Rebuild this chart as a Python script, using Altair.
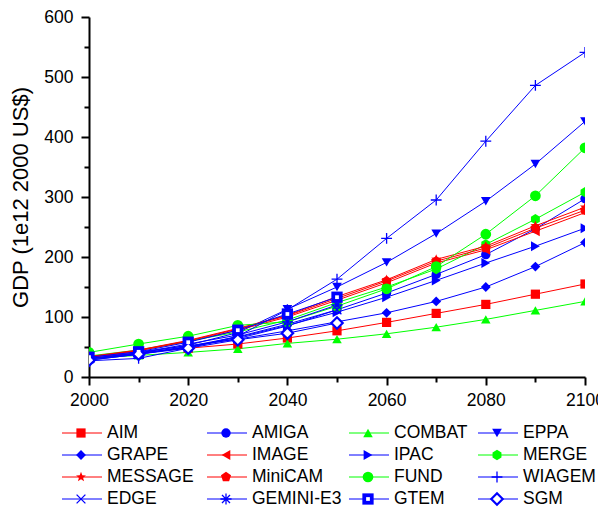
import math
import altair as alt
import pandas as pd

# ---------------- data ----------------
years = [2000, 2010, 2020, 2030, 2040, 2050, 2060, 2070, 2080, 2090, 2100]
models = ["AIM", "AMIGA", "COMBAT", "EPPA", "GRAPE", "IMAGE", "IPAC", "MERGE",
          "MESSAGE", "MiniCAM", "FUND", "WIAGEM", "EDGE", "GEMINI-E3", "GTEM", "SGM"]

aim = [33, 40, 48, 55, 65, 77, 91, 106, 121, 138, 155]
amiga = [30, 39, 51, 67, 88, 112, 140, 171, 204, 247, 297]
combat = [31, 36, 41, 47, 56, 63, 72, 83, 96, 111, 126]
eppa = [31, 40, 53, 74, 113, 150, 191, 239, 293, 355, 426]
grape = [34, 42, 52, 63, 77, 92, 107, 126, 150, 184, 224]
image = [33, 44, 59, 78, 100, 128, 157, 190, 212, 243, 274]
ipac = [28, 38, 50, 66, 86, 108, 133, 161, 190, 218, 248]
merge = [35, 45, 60, 75, 95, 124, 150, 180, 221, 263, 308]
message = [34, 45, 61, 81, 103, 134, 162, 196, 218, 252, 283]
minicam = [33, 44, 60, 80, 102, 131, 160, 193, 215, 248, 278]
fund = [41, 55, 68, 86, 92, 118, 147, 184, 238, 302, 382]
wiagem = [27, 31, 48, 68, 112, 163, 231, 295, 393, 486, 541]
edge = [30, 38, 50, 64, 85, 112]
gemini = [31, 40, 55, 70, 92, 120]
gtem = [33, 42, 58, 78, 105, 133]
sgm = [28, 38, 48, 62, 73, 90]

series = [aim, amiga, combat, eppa, grape, image, ipac, merge,
          message, minicam, fund, wiagem, edge, gemini, gtem, sgm]

RED, BLUE, GREEN = "#ff0000", "#0000ff", "#00ff00"
colors = [RED, BLUE, GREEN, BLUE, BLUE, RED, BLUE, GREEN,
          RED, RED, GREEN, BLUE, BLUE, BLUE, BLUE, BLUE]


def poly(n, start, radii):
    pts = []
    for k in range(n):
        r = radii[k % len(radii)]
        a = math.radians(start + 360.0 * k / n)
        pts.append(f"{r * math.cos(a):.3f},{r * math.sin(a):.3f}")
    return "M" + "L".join(pts) + "Z"


HEX = poly(6, -90, [1.0])
STAR = poly(10, -90, [1.0, 0.42])
PENT = poly(5, -90, [1.0])
PLUS = "M-1,0L1,0M0,-1L0,1"
XMARK = "M-0.8,-0.8L0.8,0.8M-0.8,0.8L0.8,-0.8"
AST = "M-1,0L1,0M0,-1L0,1M-0.72,-0.72L0.72,0.72M-0.72,0.72L0.72,-0.72"

shapes = ["square", "circle", "triangle-up", "triangle-down", "diamond",
          "triangle-left", "triangle-right", HEX, STAR, PENT, "circle",
          PLUS, XMARK, AST, "square", "diamond"]
sizes = [85, 130, 200, 210, 160, 200, 200, 160, 260, 170, 130,
         110, 130, 150, 100, 140]

filled_models = ["AIM", "AMIGA", "COMBAT", "EPPA", "GRAPE", "IMAGE", "IPAC",
                 "MERGE", "MESSAGE", "MiniCAM", "FUND", "GTEM"]
stroke_models = ["WIAGEM", "EDGE", "GEMINI-E3"]

rows = []
for name, vals in zip(models, series):
    for yr, v in zip(years, vals):
        rows.append({"name": name, "year": yr, "gdp": v})
df = pd.DataFrame(rows)

leg = pd.DataFrame({"name": models,
                    "col": [i % 4 for i in range(len(models))],
                    "row": [i // 4 for i in range(len(models))]})

FONT = "Liberation Sans"
W, H = 496, 360

color_enc = alt.Color("name:N", scale=alt.Scale(domain=models, range=colors), legend=None)
shape_enc = alt.Shape("name:N", scale=alt.Scale(domain=models, range=shapes), legend=None)
size_enc = alt.Size("name:N", scale=alt.Scale(domain=models, range=sizes), legend=None)

xs = alt.Scale(domain=[2000, 2100], nice=False, zero=False)
ys = alt.Scale(domain=[0, 600], nice=False)

x_main = alt.Axis(values=[2000, 2020, 2040, 2060, 2080, 2100], title=None, grid=False,
                  domainColor="black", domainWidth=2, tickColor="black", tickWidth=2,
                  tickSize=8, labelFontSize=17.5, labelFont=FONT, labelColor="black",
                  labelPadding=6, labelFlush=False, labelOverlap=False, format="d",
                  orient="bottom")
y_main = alt.Axis(values=[0, 100, 200, 300, 400, 500, 600], title="GDP (1e12 2000 US$)",
                  grid=False, domainColor="black", domainWidth=2, tickColor="black",
                  tickWidth=2, tickSize=8, labelFontSize=17.5, labelFont=FONT,
                  labelColor="black", labelPadding=8, labelFlush=False,
                  labelOverlap=False, titleFont=FONT, titleFontSize=22,
                  titleFontWeight="normal", titleColor="black", titlePadding=11,
                  orient="left")
x_minor = alt.Axis(values=[2010, 2030, 2050, 2070, 2090], title=None, grid=False,
                   domain=False, labels=False, tickColor="black", tickWidth=2,
                   tickSize=5, orient="bottom")
y_minor = alt.Axis(values=[50, 150, 250, 350, 450, 550], title=None, grid=False,
                   domain=False, labels=False, tickColor="black", tickWidth=2,
                   tickSize=5, orient="left")

base = alt.Chart(df)
X = lambda ax: alt.X("year:Q", scale=xs, axis=ax)
Y = lambda ax: alt.Y("gdp:Q", scale=ys, axis=ax)

lines = base.mark_line(strokeWidth=1, clip=True).encode(
    x=X(x_main), y=Y(y_main), color=color_enc, detail="name:N")
pts_filled = base.transform_filter(
    alt.FieldOneOfPredicate(field="name", oneOf=filled_models)
).mark_point(filled=True, opacity=1, clip=True).encode(
    x=X(None), y=Y(None), color=color_enc, shape=shape_enc, size=size_enc)
pts_stroke = base.transform_filter(
    alt.FieldOneOfPredicate(field="name", oneOf=stroke_models)
).mark_point(filled=False, opacity=1, strokeWidth=1.3, clip=True).encode(
    x=X(None), y=Y(None), color=color_enc, shape=shape_enc, size=size_enc)
pts_sgm = base.transform_filter(
    alt.FieldEqualPredicate(field="name", equal="SGM")
).mark_point(filled=False, fill="white", opacity=1, strokeWidth=2.2, clip=True).encode(
    x=X(None), y=Y(None), color=color_enc, shape=shape_enc, size=size_enc)
gtem_dot = base.transform_filter(
    alt.FieldEqualPredicate(field="name", equal="GTEM")
).mark_point(filled=True, shape="square", color="white", size=14, opacity=1, clip=True).encode(
    x=X(None), y=Y(None))
minor = base.mark_point(opacity=0).encode(x=X(x_minor), y=Y(y_minor))

data_chart = alt.layer(lines, pts_filled, pts_stroke, pts_sgm, gtem_dot, minor).resolve_axis(
    x="independent", y="independent")

# ---------------- legend ----------------
lbase = alt.Chart(leg)
LX = alt.X("col:Q", scale=alt.Scale(domain=[0, 1, 2, 3], range=[-27, 118, 260, 389]), axis=None)
LY = alt.Y("row:Q", scale=alt.Scale(domain=[0, 3], range=[416, 482]), axis=None)

leg_rule = lbase.mark_rule(strokeWidth=1, x2Offset=40).encode(
    x=LX, x2=alt.X2("col:Q"), y=LY, color=color_enc)
leg_filled = lbase.transform_filter(
    alt.FieldOneOfPredicate(field="name", oneOf=filled_models)
).mark_point(filled=True, opacity=1, xOffset=19).encode(
    x=LX, y=LY, color=color_enc, shape=shape_enc, size=size_enc)
leg_stroke = lbase.transform_filter(
    alt.FieldOneOfPredicate(field="name", oneOf=stroke_models)
).mark_point(filled=False, opacity=1, strokeWidth=1.3, xOffset=19).encode(
    x=LX, y=LY, color=color_enc, shape=shape_enc, size=size_enc)
leg_sgm = lbase.transform_filter(
    alt.FieldEqualPredicate(field="name", equal="SGM")
).mark_point(filled=False, fill="white", opacity=1, strokeWidth=2.2, xOffset=19).encode(
    x=LX, y=LY, color=color_enc, shape=shape_enc, size=size_enc)
leg_gtem = lbase.transform_filter(
    alt.FieldEqualPredicate(field="name", equal="GTEM")
).mark_point(filled=True, shape="square", color="white", size=14, opacity=1, xOffset=19).encode(
    x=LX, y=LY)
leg_text = lbase.mark_text(align="left", baseline="middle", dx=45, fontSize=17.5,
                           font=FONT, color="black").encode(x=LX, y=LY, text="name:N")

legend_chart = alt.layer(leg_rule, leg_filled, leg_stroke, leg_sgm, leg_gtem, leg_text)

chart = alt.layer(data_chart, legend_chart).resolve_scale(
    x="independent", y="independent"
).properties(
    width=W, height=H,
    autosize=alt.AutoSizeParams(type="none"),
    padding={"left": 81, "top": 9, "right": 13, "bottom": 133},
).configure_view(stroke=None)

chart.save("out.html", embed_options={"renderer": "svg", "actions": False})
